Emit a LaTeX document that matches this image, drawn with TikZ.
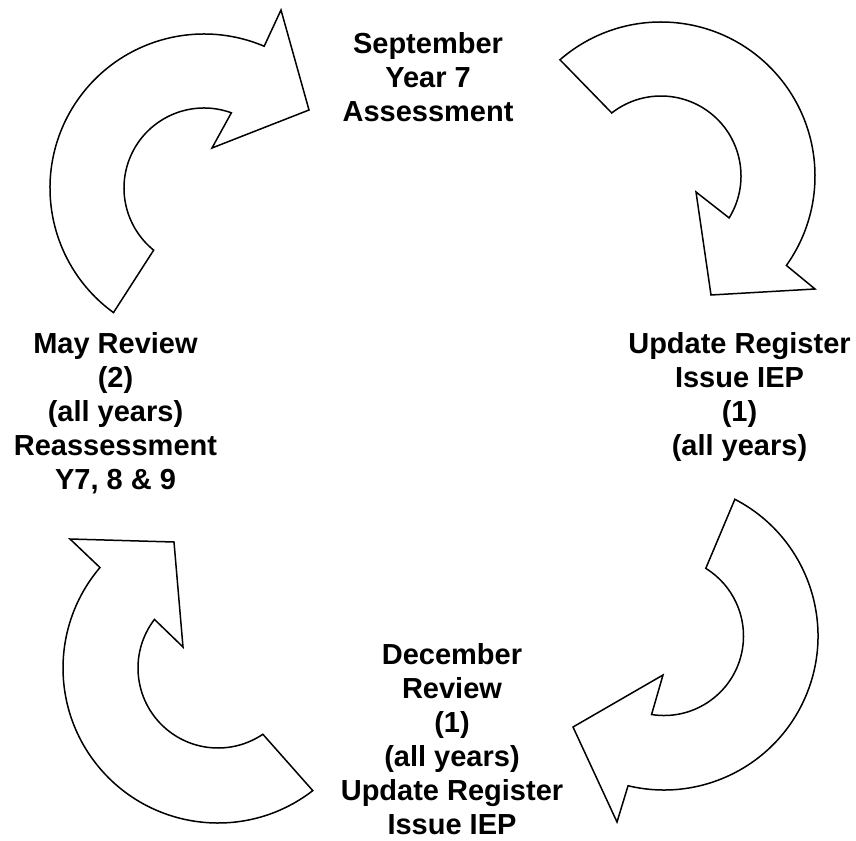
\documentclass[tikz,border=0pt]{standalone}
\usepackage{fontspec}
\setmainfont{Liberation Sans}
\begin{document}
\begin{tikzpicture}[x=1pt,y=1pt,
  arrowshape/.style={draw=black, line width=1.5pt, fill=white, line join=miter},
  lbl/.style={inner sep=0pt, anchor=base, font=\fontsize{29}{34}\selectfont\bfseries}]
\useasboundingbox (0,0) rectangle (856,-840);
% arc centres
\coordinate (c1) at (204,-188);
\coordinate (c2) at (661,-176);
\coordinate (c3) at (664,-636);
\coordinate (c4) at (218,-668);
% arrow tips and barbs
\coordinate (b1o) at (281,-10);  \coordinate (t1) at (309,-110); \coordinate (b1i) at (212,-148);
\coordinate (b2o) at (815,-289); \coordinate (t2) at (711,-295); \coordinate (b2i) at (696,-192);
\coordinate (b3o) at (617,-822); \coordinate (t3) at (573,-727); \coordinate (b3i) at (663,-675);
\coordinate (b4o) at (70,-539);  \coordinate (t4) at (174,-542); \coordinate (b4i) at (183,-647);
% top-left arrow
\draw[arrowshape] ([shift={(234:154)}]c1) arc[start angle=234, end angle=67, radius=154]
  -- (b1o) -- (t1) -- (b1i) -- ([shift={(70:80)}]c1) arc[start angle=70, end angle=231, radius=80] -- cycle;
% top-right arrow
\draw[arrowshape] ([shift={(131:154)}]c2) arc[start angle=131, end angle=-35.5, radius=154]
  -- (b2o) -- (t2) -- (b2i) -- ([shift={(-31.6:80)}]c2) arc[start angle=-31.6, end angle=128, radius=80] -- cycle;
% bottom-right arrow
\draw[arrowshape] ([shift={(62.6:154)}]c3) arc[start angle=62.6, end angle=-103.5, radius=154]
  -- (b3o) -- (t3) -- (b3i) -- ([shift={(-99:79.5)}]c3) arc[start angle=-99, end angle=58.3, radius=79.5] -- cycle;
% bottom-left arrow
\draw[arrowshape] ([shift={(-52.3:155)}]c4) arc[start angle=-52.3, end angle=-220.4, radius=155]
  -- (b4o) -- (t4) -- (b4i) -- ([shift={(142.6:80)}]c4) arc[start angle=142.6, end angle=304.1, radius=80] -- cycle;
% labels
\node[lbl] (sep) at (428,-54) {\begin{tabular}[t]{@{}c@{}}September\\Year 7\\Assessment\end{tabular}};
\node[lbl] (upd) at (739.5,-353) {\begin{tabular}[t]{@{}c@{}}Update Register\\Issue IEP\\(1)\\(all years)\end{tabular}};
\node[lbl] (dec) at (452,-664) {\begin{tabular}[t]{@{}c@{}}December\\Review\\(1)\\(all years)\\Update Register\\Issue IEP\end{tabular}};
\node[lbl] (may) at (115.5,-353) {\begin{tabular}[t]{@{}c@{}}May Review\\(2)\\(all years)\\Reassessment\\Y7, 8 \& 9\end{tabular}};
\end{tikzpicture}
\end{document}
